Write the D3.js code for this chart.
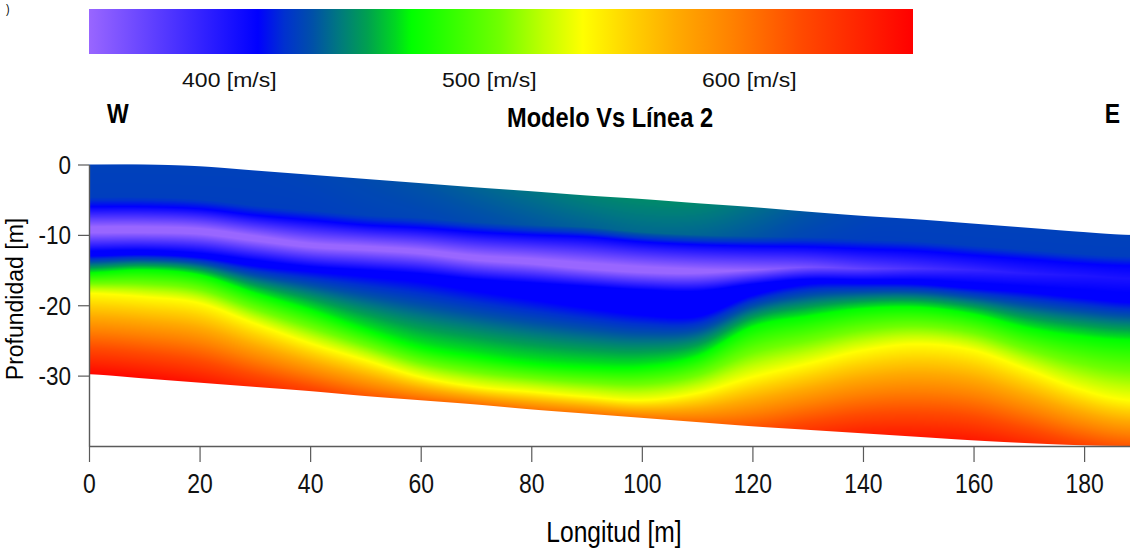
<!DOCTYPE html>
<html><head><meta charset="utf-8">
<script src="https://cdn.jsdelivr.net/npm/d3@7"></script>
<style>body{margin:0;background:#fff;} svg{display:block}</style>
</head><body>
<svg id="chart" width="1130" height="549"></svg>
<script>
// ---------------- DATA ----------------
const distances       = [0, 10, 20, 30, 40, 50, 60, 70, 80, 90, 100, 110, 120, 130, 140, 150, 160, 170, 180, 188];
const surfaceDepth    = [0, 0, -0.25, -0.85, -1.45, -2.05, -2.65, -3.25, -3.8, -4.4, -4.9, -5.5, -6.05, -6.7, -7.3, -7.8, -8.4, -9.0, -9.6, -10.0];
const darkLayerBase   = [-4.6, -4.6, -4.9, -5.8, -6.5, -7.2, -7.6, -8.2, -8.6, -8.9, -9.6, -10.0, -10.2, -10.3, -10.6, -10.9, -11.5, -12.1, -12.7, -13.0];
const upperBlueDepth  = [-6.0, -6.0, -6.3, -7.2, -7.9, -8.6, -9.0, -9.6, -10.0, -10.3, -11.0, -11.4, -11.6, -11.7, -12.0, -12.3, -12.9, -13.5, -14.1, -14.4];
const lowVelDepth     = [-9.3, -9.3, -9.5, -10.5, -11.5, -11.9, -12.4, -13.3, -13.8, -14.5, -15.0, -15.2, -15.0, -14.6, -14.8, -14.8, -15.0, -15.5, -15.8, -16.2];
const lowerBlueTop    = [-12.3, -12.2, -12.6, -13.6, -14.5, -15.0, -15.5, -16.3, -16.8, -17.3, -17.8, -18.0, -17.0, -16.3, -16.4, -16.4, -16.8, -17.3, -17.8, -18.2];
const lowerBlueBase   = [-13.0, -12.8, -13.2, -14.4, -15.2, -15.9, -16.7, -18.0, -19.2, -20.4, -21.4, -21.6, -18.6, -17.0, -16.9, -17.0, -17.6, -18.2, -19.0, -19.6];
const greenDepth      = [-15.4, -15.0, -15.7, -18.3, -20.7, -23.5, -26.0, -27.3, -28.3, -28.8, -28.8, -27.3, -23.1, -21.6, -20.5, -20.3, -21.3, -23.3, -24.5, -25.0];
const yellowDepth     = [-18.3, -18.8, -19.7, -22.6, -25.4, -27.8, -30.2, -31.6, -32.3, -33.0, -33.5, -32.5, -30.2, -28.3, -26.4, -25.5, -26.4, -29.2, -32.1, -33.5];
const bottomDepth     = [-29.8, -30.4, -31.0, -31.6, -32.2, -32.9, -33.5, -34.1, -34.8, -35.4, -36.0, -36.6, -37.2, -37.7, -38.2, -38.7, -39.2, -39.6, -39.9, -40.0];

const surfaceVs       = [427, 427, 427, 427, 428, 430, 433, 437, 441, 445, 447, 446, 440, 433, 428, 427, 427, 427, 427, 427];
const darkLayerVs     = [426, 426, 426, 426, 426, 427, 428, 430, 433, 436, 438, 437, 433, 428, 426, 426, 426, 426, 426, 426];
const lowVelVs        = [336, 336, 337, 338, 340, 340, 340, 339, 338, 337, 337, 340, 348, 360, 370, 380, 388, 394, 398, 400];
const bottomVs        = [660, 658, 652, 640, 628, 615, 608, 603, 600, 600, 600, 605, 615, 632, 645, 650, 650, 640, 625, 615];
const blueVs = 411, greenVs = 470, yellowVs = 536;

const colorStopValues = [346, 411, 421, 432, 442, 453, 464, 470, 504, 521, 536, 555, 572, 594, 620, 645, 663];
const colorStopColors = ["#9966ff", "#0000ff", "#0030d0", "#0050a8", "#007880", "#00a050", "#00d820", "#00ff00",
                         "#70ff00", "#c0ff00", "#ffff00", "#ffd000", "#ffaa00", "#ff8000", "#ff4a00", "#ff2000", "#ff0000"];
const colorbarTicks = [400, 500, 600];
const xTicks = [0, 20, 40, 60, 80, 100, 120, 140, 160, 180];
const yTicks = [0, -10, -20, -30];

// ---------------- LAYOUT ----------------
const svg = d3.select("#chart");
const plotLeft = 89, plotRight = 1130, plotTop = 164.5, plotBottom = 446;
const xScale = d3.scaleLinear().domain([0, 188.3]).range([plotLeft, plotRight]);
const yScale = d3.scaleLinear().domain([-40, 0]).range([plotBottom, plotTop]);
const vMin = colorStopValues[0], vMax = colorStopValues[colorStopValues.length - 1];
const color = d3.scaleLinear().domain(colorStopValues).range(colorStopColors).interpolate(d3.interpolateRgb).clamp(true);
const cbScale = d3.scaleLinear().domain([vMin, vMax]).range([89, 913]);
const FONT = '"Liberation Sans", Arial, Helvetica, sans-serif';

// ---------------- FIELD ----------------
const horizons = [
  {d: surfaceDepth, v: surfaceVs},
  {d: darkLayerBase, v: darkLayerVs},
  {d: upperBlueDepth, v: blueVs},
  {d: lowVelDepth, v: lowVelVs},
  {d: lowerBlueTop, v: blueVs},
  {d: lowerBlueBase, v: blueVs},
  {d: greenDepth, v: greenVs},
  {d: yellowDepth, v: yellowVs},
  {d: bottomDepth, v: bottomVs}
];
function sampleAt(arr, x) {
  if (typeof arr === "number") return arr;
  const n = distances.length;
  if (x <= distances[0]) return arr[0];
  if (x >= distances[n - 1]) return arr[n - 1];
  const i = Math.min(d3.bisectRight(distances, x) - 1, n - 2);
  const t = (x - distances[i]) / (distances[i + 1] - distances[i]);
  const p0 = arr[Math.max(i - 1, 0)], p1 = arr[i], p2 = arr[i + 1], p3 = arr[Math.min(i + 2, n - 1)];
  return 0.5 * (2 * p1 + (-p0 + p2) * t + (2 * p0 - 5 * p1 + 4 * p2 - p3) * t * t + (-p0 + 3 * p1 - 3 * p2 + p3) * t * t * t);
}
const LUT = 1024;
const lut = d3.range(LUT).map(i => d3.rgb(color(vMin + (vMax - vMin) * i / (LUT - 1))));

const W = Math.round(plotRight - plotLeft), H = Math.round(plotBottom - 164);
const canvas = document.createElement("canvas");
canvas.width = W; canvas.height = H;
const ctx = canvas.getContext("2d");
const img = ctx.createImageData(W, H);
const pxDepth = 40 / (plotBottom - plotTop);
for (let px = 0; px < W; px++) {
  const x = xScale.invert(plotLeft + px + 0.5);
  const ds = [], vs = [];
  horizons.forEach((h, k) => {
    let d = sampleAt(h.d, x);
    if (k > 0) d = Math.min(d, ds[k - 1] - 0.01);
    ds.push(d); vs.push(sampleAt(h.v, x));
  });
  const last = ds.length - 1;
  for (let py = 0; py < H; py++) {
    const depth = yScale.invert(164 + py + 0.5);
    let a = Math.min(1, (ds[0] - depth) / pxDepth + 0.5, (depth - ds[last]) / pxDepth + 0.5);
    if (a <= 0) continue;
    let v;
    if (depth >= ds[0]) v = vs[0];
    else if (depth <= ds[last]) v = vs[last];
    else {
      let k = 0;
      while (k < last - 1 && depth < ds[k + 1]) k++;
      const t = (ds[k] - depth) / (ds[k] - ds[k + 1]);
      v = vs[k] + t * (vs[k + 1] - vs[k]);
    }
    const c = lut[Math.max(0, Math.min(LUT - 1, Math.round((v - vMin) / (vMax - vMin) * (LUT - 1))))];
    const o = (py * W + px) * 4;
    img.data[o] = c.r; img.data[o + 1] = c.g; img.data[o + 2] = c.b; img.data[o + 3] = Math.round(a * 255);
  }
}
ctx.putImageData(img, 0, 0);
svg.append("image").attr("x", plotLeft).attr("y", 164).attr("width", W).attr("height", H)
  .attr("href", canvas.toDataURL());

// ---------------- AXES ----------------
const axisColor = "#5a5a5a";
const xAxis = svg.append("g").attr("transform", `translate(0,${plotBottom})`)
  .call(d3.axisBottom(xScale).tickValues(xTicks).tickSize(16).tickSizeOuter(0).tickFormat(d => String(d)));
xAxis.select(".domain").attr("stroke", axisColor).attr("stroke-width", 1.4);
xAxis.selectAll(".tick line").attr("stroke", axisColor).attr("stroke-width", 1.2);
xAxis.selectAll(".tick text").attr("y", 0).attr("dy", 0).attr("fill", "#111")
  .attr("transform", "translate(0,47) scale(0.82,1)")
  .style("font", `28px ${FONT}`);

const yAxis = svg.append("g").attr("transform", `translate(${plotLeft},0)`)
  .call(d3.axisLeft(yScale).tickValues(yTicks).tickSize(11).tickSizeOuter(0).tickFormat(d => String(d)));
yAxis.select(".domain").attr("stroke", axisColor).attr("stroke-width", 1.4);
yAxis.selectAll(".tick line").attr("stroke", axisColor).attr("stroke-width", 1.2);
yAxis.selectAll(".tick text").attr("x", 0).attr("dy", "0.36em").attr("fill", "#111")
  .attr("transform", "translate(-18,0) scale(0.9,1)")
  .style("font", `25px ${FONT}`);

// ---------------- COLORBAR ----------------
const grad = svg.append("defs").append("linearGradient").attr("id", "cb")
  .attr("x1", "0%").attr("x2", "100%").attr("y1", "0%").attr("y2", "0%");
colorStopValues.forEach((v, i) => grad.append("stop")
  .attr("offset", (v - vMin) / (vMax - vMin)).attr("stop-color", colorStopColors[i]));
svg.append("rect").attr("x", cbScale(vMin)).attr("y", 9).attr("width", cbScale(vMax) - cbScale(vMin)).attr("height", 45)
  .attr("fill", "url(#cb)");
colorbarTicks.forEach(v => {
  svg.append("text").attr("transform", `translate(${cbScale(v)},87) scale(1.15,1)`)
    .attr("text-anchor", "middle").attr("fill", "#111").style("font", `20px ${FONT}`)
    .text(`${v} [m/s]`);
});

// ---------------- TEXTS ----------------
function narrow(x, y, str, size, weight, anchor, sx) {
  return svg.append("text").attr("transform", `translate(${x},${y}) scale(${sx || 0.82},1)`)
    .attr("text-anchor", anchor).attr("fill", "#000").style("font", `${weight} ${size}px ${FONT}`).text(str);
}
narrow(6, 13, ")", 13, "normal", "start");
narrow(107, 123, "W", 28, "bold", "start");
narrow(1120, 123, "E", 28, "bold", "end");
narrow(610, 127, "Modelo Vs Línea 2", 27, "bold", "middle", 0.875);
narrow(614, 542, "Longitud [m]", 30, "normal", "middle");
svg.append("text").attr("transform", "translate(23,299) rotate(-90)").attr("text-anchor", "middle")
  .attr("fill", "#000").style("font", `23px ${FONT}`).text("Profundidad [m]");
</script>
</body></html>
